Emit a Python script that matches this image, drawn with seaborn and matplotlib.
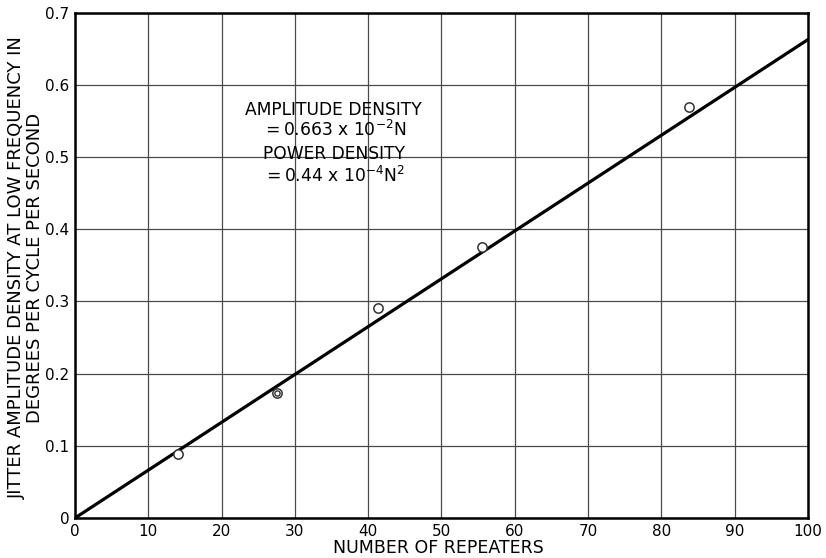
import numpy as np
import pandas as pd
import matplotlib
matplotlib.use("Agg")
import matplotlib.pyplot as plt
import seaborn as sns

# Measured jitter amplitude density vs. number of repeaters
repeaters = [14.0, 27.5, 41.3, 55.5, 83.7]
jitter = [0.089, 0.173, 0.291, 0.375, 0.569]
# A second measurement that landed on the same spot
repeat_x = [27.5]
repeat_y = [0.173]

# Fitted amplitude density: 0.663 x 10^-2 N
slope = 0.663e-2
fit_n = [0, 100]

x_ticks = [0, 10, 20, 30, 40, 50, 60, 70, 80, 90, 100]
y_ticks = [0, 0.1, 0.2, 0.3, 0.4, 0.5, 0.6, 0.7]
y_tick_labels = ["0", "0.1", "0.2", "0.3", "0.4", "0.5", "0.6", "0.7"]

sns.set_style("white")
plt.rcParams["font.family"] = ["DejaVu Sans"]
plt.rcParams["text.color"] = "black"
plt.rcParams["xtick.color"] = "black"
plt.rcParams["ytick.color"] = "black"

fig = plt.figure(figsize=(8.26, 5.58), dpi=100)
ax = fig.add_axes([0.0908, 0.0717, 0.8874, 0.9053])

pts = pd.DataFrame({"n": repeaters, "j": jitter})
fit = pd.DataFrame({"n": fit_n, "j": [slope * n for n in fit_n]})

ax.set_xlim(0, 100)
ax.set_ylim(0, 0.7)
ax.set_xticks(x_ticks)
ax.set_xticklabels([str(t) for t in x_ticks])
ax.set_yticks(y_ticks)
ax.set_yticklabels(y_tick_labels)
ax.grid(True, color="#4a4a4a", linewidth=0.9, zorder=0)
ax.set_axisbelow(True)

# white panel behind the annotation hides the grid there
ax.add_patch(plt.Rectangle((20, 0.445), 30, 0.155, facecolor="white",
                           edgecolor="none", zorder=0.5))

sns.lineplot(data=fit, x="n", y="j", ax=ax, color="black", linewidth=2.3,
             zorder=3)
sns.scatterplot(data=pts, x="n", y="j", ax=ax, marker="o", s=45,
                facecolor="white", edgecolor="#333333", linewidth=1.1,
                zorder=4)
sns.scatterplot(x=repeat_x, y=repeat_y, ax=ax, marker="o", s=14,
                facecolor="white", edgecolor="#333333", linewidth=1.0,
                zorder=5)

box_kw = dict(ha="center", va="center", fontsize=12.3, zorder=6)
ax.text(35.3, 0.566, "AMPLITUDE DENSITY", **box_kw)
ax.text(35.3, 0.538, r"$=$0.663 x 10$^{-2}$N", **box_kw)
ax.text(35.3, 0.504, "POWER DENSITY", **box_kw)
ax.text(35.3, 0.474, r"$=$0.44 x 10$^{-4}$N$^{2}$", **box_kw)

for side in ax.spines.values():
    side.set_visible(True)
    side.set_color("black")
    side.set_linewidth(1.8)

ax.tick_params(axis="both", length=0, labelsize=11, pad=4)
ax.set_xlabel("")
ax.set_ylabel("")

fig.text(0.531, 0.018, "NUMBER OF REPEATERS", ha="center", va="center",
         fontsize=12.5)
fig.text(0.032, 0.52,
         "JITTER AMPLITUDE DENSITY AT LOW FREQUENCY IN\n"
         "DEGREES PER CYCLE PER SECOND",
         rotation=90, ha="center", va="center", multialignment="center",
         fontsize=13, linespacing=1.0)

fig.savefig("out.png", dpi=100, facecolor="white")
